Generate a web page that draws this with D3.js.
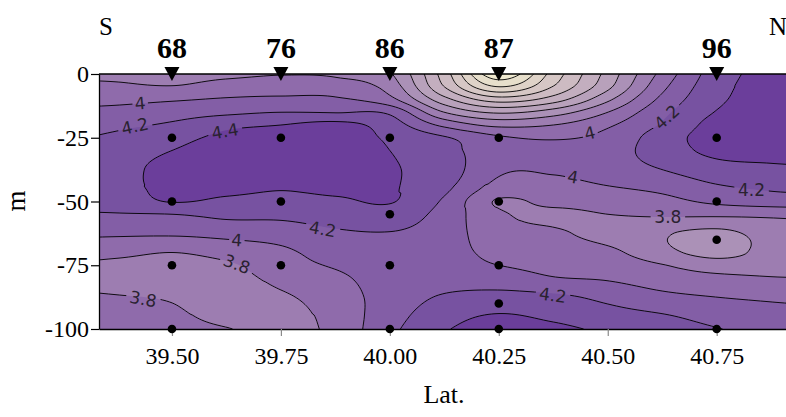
<!DOCTYPE html>
<html><head><meta charset="utf-8">
<script src="https://cdn.jsdelivr.net/npm/d3@7"></script>
<style>body{margin:0;background:#fff} svg{display:block}</style>
</head><body><svg id="c" width="786" height="417"></svg>
<script>
// ---------------- data ----------------
const gridLats = [39.25, 39.375, 39.5, 39.625, 39.75, 39.875, 40.0, 40.125, 40.25, 40.375, 40.5, 40.625, 40.75, 40.875, 41.0];
const gridDepths = [0, -5, -10, -15, -20, -25, -30, -37.5, -45, -50, -55, -62.5, -70, -75, -80, -87.5, -95, -100];
// one profile (values at gridDepths) per grid latitude
const fieldColumns = [
  [3.77,3.84,3.94,4.03,4.10,4.17,4.22,4.27,4.28,4.26,4.18,4.04,3.88,3.80,3.78,3.83,3.87,3.89],
  [3.76,3.83,3.95,4.06,4.16,4.24,4.29,4.33,4.32,4.28,4.19,4.03,3.85,3.75,3.72,3.81,3.86,3.89],
  [3.72,3.81,3.98,4.11,4.23,4.33,4.40,4.47,4.46,4.41,4.20,4.03,3.80,3.72,3.70,3.78,3.84,3.87],
  [3.75,3.88,4.02,4.16,4.35,4.45,4.50,4.51,4.45,4.36,4.25,4.06,3.87,3.77,3.72,3.68,3.74,3.81],
  [3.79,3.90,4.04,4.20,4.40,4.49,4.53,4.51,4.41,4.34,4.25,4.09,3.96,3.92,3.86,3.77,3.73,3.72],
  [3.77,3.89,4.03,4.19,4.46,4.50,4.52,4.50,4.44,4.37,4.30,4.17,4.08,4.02,3.96,3.90,3.87,3.86],
  [3.62,3.72,3.86,4.16,4.30,4.37,4.40,4.42,4.42,4.41,4.33,4.19,4.12,4.10,4.09,4.09,4.12,4.15],
  [2.90,3.00,3.27,3.60,3.95,4.22,4.27,4.30,4.24,4.17,4.12,4.09,4.08,4.09,4.12,4.22,4.32,4.38],
  [2.05,2.40,2.90,3.37,3.75,4.03,4.07,4.03,3.92,3.78,3.83,3.88,3.94,4.00,4.10,4.26,4.42,4.50],
  [2.68,2.81,3.10,3.50,3.80,3.98,4.06,4.02,3.93,3.85,3.76,3.83,3.90,3.94,4.01,4.24,4.36,4.45],
  [3.27,3.35,3.56,3.80,3.97,4.06,4.11,4.09,3.98,3.89,3.80,3.73,3.85,3.92,3.98,4.15,4.28,4.36],
  [3.86,3.95,4.05,4.15,4.22,4.30,4.30,4.20,4.04,3.94,3.83,3.62,3.66,3.81,3.90,4.05,4.22,4.30],
  [4.30,4.33,4.36,4.41,4.47,4.49,4.45,4.32,4.16,4.04,3.84,3.55,3.54,3.70,3.85,4.00,4.13,4.21],
  [4.45,4.47,4.49,4.51,4.53,4.52,4.47,4.36,4.22,4.10,3.85,3.68,3.66,3.72,3.81,3.97,4.07,4.12],
  [4.45,4.47,4.50,4.52,4.53,4.52,4.48,4.38,4.24,4.12,3.88,3.72,3.70,3.74,3.80,3.95,4.05,4.10]
];
const levels = [2.0, 2.2, 2.4, 2.6, 2.8, 3.0, 3.2, 3.4, 3.6, 3.8, 4.0, 4.2, 4.4];
const stationLats = [39.5, 39.75, 40.0, 40.25, 40.75];
const stationNames = ["68", "76", "86", "87", "96"];
const sampleLats   = [39.5, 39.5, 39.5, 39.5, 39.75, 39.75, 39.75, 40.0, 40.0, 40.0, 40.0, 40.25, 40.25, 40.25, 40.25, 40.25, 40.75, 40.75, 40.75, 40.75];
const sampleDepths = [-25, -50, -75, -100, -25, -50, -75, -25, -55, -75, -100, -25, -50, -75, -90, -100, -25, -50, -65, -100];
const xTicks = [39.5, 39.75, 40.0, 40.25, 40.5, 40.75];
const yTicks = [0, -25, -50, -75, -100];
const labelTexts  = ["4", "4.2", "4.4", "4.2", "4", "3.8", "3.8", "4", "4.2", "4", "3.8", "4.2", "4.2"];
const labelLats   = [39.427, 39.415, 39.622, 39.846, 39.649, 39.649, 39.434, 40.459, 40.635, 40.420, 40.638, 40.830, 40.374];
const labelDepths = [-11.4, -20.4, -22.4, -60.8, -65.1, -74.5, -88.2, -23.1, -16.9, -40.4, -56.1, -45.5, -86.7];
const labelAngles = [-5, -13, -10, 10, 4, 20, 10, -14, -42, 10, 0, 0, 8];

// ---------------- layout ----------------
const svg = d3.select("#c");
const X0 = 99, X1 = 799.5, Y0 = 74, Y1 = 329;
const x = d3.scaleLinear().domain([39.3326, 40.94]).range([X0, X1]);
const y = d3.scaleLinear().domain([0, -100]).range([Y0, Y1]);

const colorStops = [1.9, 2.1, 2.3, 2.5, 2.7, 2.9, 3.1, 3.3, 3.5, 3.7, 3.9, 4.1, 4.3, 4.5];
const colorVals = ["#f5f1d3","#efe9cf","#e7dfcb","#dfd3c8","#d6c7c5","#cdbbc2","#c3aebf","#b8a1bb","#ab91b7","#9d7db1","#8f6bab","#835ea6","#7752a1","#6b3e9b"];
const color = d3.scaleLinear().domain(colorStops).range(colorVals).clamp(true);

// smooth cubic Hermite interpolation (finite-difference tangents)
function smoothCurve(xs, ys) {
  const n = xs.length, h = [], s = [], m = new Array(n);
  for (let k = 0; k < n - 1; k++) { h[k] = xs[k+1] - xs[k]; s[k] = (ys[k+1] - ys[k]) / h[k]; }
  m[0] = s[0]; m[n-1] = s[n-2];
  for (let k = 1; k < n - 1; k++) {
    const p = (s[k-1] * h[k] + s[k] * h[k-1]) / (h[k-1] + h[k]);
    // soften the tangent when the data turns, to limit overshoot
    m[k] = (s[k-1] * s[k] <= 0) ? 0.6 * p : p;
  }
  return function(v) {
    if (v <= xs[0]) return ys[0];
    if (v >= xs[n-1]) return ys[n-1];
    let k = 0; while (k < n - 2 && v > xs[k+1]) k++;
    const hk = h[k], t = (v - xs[k]) / hk, t2 = t*t, t3 = t2*t;
    return (2*t3 - 3*t2 + 1) * ys[k] + (t3 - 2*t2 + t) * hk * m[k] + (-2*t3 + 3*t2) * ys[k+1] + (t3 - t2) * hk * m[k+1];
  };
}

const posDepths = gridDepths.map(d => -d);
const colInterp = fieldColumns.map(col => smoothCurve(posDepths, col));
const step = 1, gx0 = 96, gy0 = 71;
const nx = Math.ceil((803 - gx0) / step) + 1, ny = Math.ceil((332 - gy0) / step) + 1;
const values = new Float64Array(nx * ny);
for (let j = 0; j < ny; j++) {
  const dep = -y.invert(gy0 + j * step);
  const rowVals = colInterp.map(f => f(dep));
  const rf = smoothCurve(gridLats, rowVals);
  for (let i = 0; i < nx; i++) values[j * nx + i] = rf(x.invert(gx0 + i * step));
}
const contours = d3.contours().size([nx, ny]).thresholds(levels)(values);
const path = d3.geoPath(d3.geoTransform({
  point(px, py) { this.stream.point(gx0 + (px - 0.5) * step, gy0 + (py - 0.5) * step); }
}));

const defs = svg.append("defs");
defs.append("clipPath").attr("id", "plotclip").append("rect")
  .attr("x", X0).attr("y", Y0).attr("width", X1 - X0).attr("height", Y1 - Y0);
const mask = defs.append("mask").attr("id", "lblmask").attr("maskUnits", "userSpaceOnUse")
  .attr("x", 0).attr("y", 0).attr("width", 786).attr("height", 417);
mask.append("rect").attr("x", 0).attr("y", 0).attr("width", 786).attr("height", 417).attr("fill", "#fff");
labelTexts.forEach((t, i) => {
  const w = t.length * 9.5 + 6;
  mask.append("rect").attr("x", -w/2).attr("y", -8).attr("width", w).attr("height", 16).attr("fill", "#000")
    .attr("transform", `translate(${x(labelLats[i])},${y(labelDepths[i])}) rotate(${labelAngles[i]})`);
});

const plot = svg.append("g").attr("clip-path", "url(#plotclip)");
plot.append("rect").attr("x", X0).attr("y", Y0).attr("width", X1 - X0).attr("height", Y1 - Y0).attr("fill", color(1.9));
plot.selectAll("path.band").data(contours).join("path").attr("class", "band")
  .attr("d", path).attr("fill", d => color(d.value + 0.1)).attr("stroke", "none");
plot.append("g").attr("mask", "url(#lblmask)")
  .selectAll("path").data(contours).join("path")
  .attr("d", path).attr("fill", "none").attr("stroke", "#000").attr("stroke-width", 0.9);

// contour labels
svg.append("g").selectAll("text").data(labelTexts).join("text")
  .attr("transform", (t, i) => `translate(${x(labelLats[i])},${y(labelDepths[i])}) rotate(${labelAngles[i]})`)
  .attr("text-anchor", "middle").attr("dy", "0.36em")
  .attr("font-family", "DejaVu Sans").attr("font-size", 17).attr("fill", "#2a2230")
  .text(t => t);

// axes
const serif = "'Liberation Serif', 'Times New Roman', serif";
const xAxis = svg.append("g").attr("transform", `translate(0,${Y1})`)
  .call(d3.axisBottom(x).tickValues(xTicks).tickFormat(d3.format(".2f")).tickSize(7).tickPadding(11).tickSizeOuter(0));
xAxis.selectAll(".tick line").attr("stroke", "#8a8a8a").attr("stroke-width", 1.2);
xAxis.select(".domain").attr("stroke-width", 1.3);
xAxis.selectAll("text").attr("font-family", serif).attr("font-size", 24).attr("fill", "#000");

const yAxis = svg.append("g").attr("transform", `translate(${X0},0)`)
  .call(d3.axisLeft(y).tickValues(yTicks).tickFormat(d => String(d)).tickSize(8).tickPadding(2).tickSizeOuter(0));
yAxis.selectAll(".tick line").attr("stroke-width", 1.2);
yAxis.select(".domain").attr("stroke-width", 1.3);
yAxis.selectAll("text").attr("font-family", serif).attr("font-size", 24).attr("fill", "#000");

svg.append("line").attr("x1", X0).attr("x2", X1).attr("y1", Y0).attr("y2", Y0)
  .attr("stroke", "#000").attr("stroke-width", 1.3);

// sample points
svg.append("g").selectAll("circle").data(sampleLats).join("circle")
  .attr("cx", d => x(d)).attr("cy", (d, i) => y(sampleDepths[i])).attr("r", 4.3).attr("fill", "#000");

// station markers and names
svg.append("g").selectAll("path").data(stationLats).join("path")
  .attr("d", d => `M${x(d) - 7.5},${Y0 - 7} L${x(d) + 7.5},${Y0 - 7} L${x(d)},${Y0 + 7} Z`)
  .attr("fill", "#000");
svg.append("g").selectAll("text").data(stationNames).join("text")
  .attr("x", (d, i) => x(stationLats[i])).attr("y", 58).attr("text-anchor", "middle")
  .attr("font-family", serif).attr("font-weight", "bold").attr("font-size", 30).attr("fill", "#000")
  .text(d => d);

svg.append("text").attr("x", 99).attr("y", 35).attr("font-family", serif).attr("font-size", 25).text("S");
svg.append("text").attr("x", 769).attr("y", 35).attr("font-family", serif).attr("font-size", 25).text("N");
svg.append("text").attr("x", 444).attr("y", 403).attr("text-anchor", "middle")
  .attr("font-family", serif).attr("font-size", 26).text("Lat.");
svg.append("text").attr("transform", "translate(25,201) rotate(-90)").attr("text-anchor", "middle")
  .attr("font-family", serif).attr("font-size", 27).text("m");
</script></body></html>
